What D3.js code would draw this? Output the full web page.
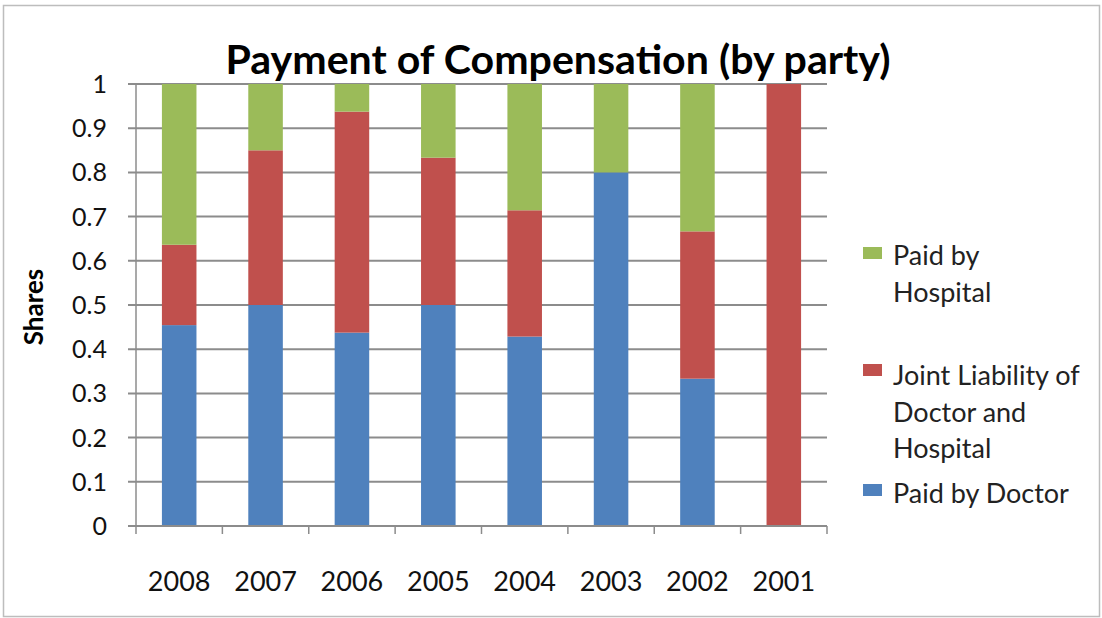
<!DOCTYPE html>
<html><head><meta charset="utf-8">
<script src="https://cdn.jsdelivr.net/npm/d3@7"></script>
<style>body{margin:0;background:#fff}</style>
</head><body>
<svg id="c" width="1102" height="618"></svg>
<script>
const years = ["2008","2007","2006","2005","2004","2003","2002","2001"];
const paidByDoctor   = [0.4545, 0.5, 0.4375, 0.5, 0.4286, 0.8, 0.3333, 0];
const jointLiability = [0.1818, 0.35, 0.5, 0.3333, 0.2857, 0, 0.3333, 1];
const paidByHospital = [0.3637, 0.15, 0.0625, 0.1667, 0.2857, 0.2, 0.3334, 0];
const yTicks = [0,0.1,0.2,0.3,0.4,0.5,0.6,0.7,0.8,0.9,1];
const seriesNames = ["Paid by Doctor","Joint Liability of Doctor and Hospital","Paid by Hospital"];
const seriesColors = ["#4F81BD","#C0504D","#9BBB59"];

const font = "Lato, 'Open Sans', sans-serif";
const svg = d3.select("#c");
svg.append("rect").attr("x",3.5).attr("y",5.5).attr("width",1096).attr("height",611)
  .attr("fill","#fff").attr("stroke","#bdbdbd").attr("stroke-width",1.5);

const L=136, R=827, T=84, B=526;
const x = d3.scaleBand().domain(years).range([L,R]).paddingInner(0.6).paddingOuter(0.3);
const xb = d3.scaleBand().domain(years).range([L,R]);
const y = d3.scaleLinear().domain([0,1]).range([B,T]);

// gridlines
svg.append("g").selectAll("line").data(yTicks).join("line")
  .attr("x1",L-8).attr("x2",R).attr("y1",d=>y(d)).attr("y2",d=>y(d))
  .attr("stroke","#8c8c8c").attr("stroke-width",2);
// y axis line
svg.append("line").attr("x1",L).attr("x2",L).attr("y1",T).attr("y2",B)
  .attr("stroke","#8c8c8c").attr("stroke-width",1.5);
// y labels
svg.append("g").selectAll("text").data(yTicks).join("text")
  .attr("x",107).attr("y",d=>y(d)+9).attr("text-anchor","end")
  .attr("font-family",font).attr("font-size",25).attr("fill","#111")
  .text(d=>d3.format("")(d));

// stacked data
const rows = years.map((yr,i)=>({year:yr, d:paidByDoctor[i], j:jointLiability[i], h:paidByHospital[i]}));
const stack = d3.stack().keys(["d","j","h"])(rows);
svg.append("g").selectAll("g").data(stack).join("g")
  .attr("fill",(s,i)=>seriesColors[i])
  .selectAll("rect").data(s=>s).join("rect")
  .attr("x",d=>x(d.data.year)).attr("width",x.bandwidth())
  .attr("y",d=>y(d[1])).attr("height",d=>Math.max(0,y(d[0])-y(d[1])));

// x axis line + ticks
svg.append("line").attr("x1",L).attr("x2",R).attr("y1",B).attr("y2",B)
  .attr("stroke","#8c8c8c").attr("stroke-width",2);
const tickPos = years.map(yr=>xb(yr)).concat([R]);
svg.append("g").selectAll("line").data(tickPos).join("line")
  .attr("x1",d=>d).attr("x2",d=>d).attr("y1",B).attr("y2",B+8)
  .attr("stroke","#8c8c8c").attr("stroke-width",1.5);
svg.append("g").selectAll("text").data(years).join("text")
  .attr("x",d=>xb(d)+xb.bandwidth()/2).attr("y",591).attr("text-anchor","middle")
  .attr("font-family",font).attr("font-size",27).attr("fill","#111").text(d=>d);

// title
svg.append("text").attr("x",558).attr("y",74).attr("text-anchor","middle")
  .attr("font-family",font).attr("font-weight","bold").attr("font-size",41)
  .attr("textLength",665).attr("lengthAdjust","spacingAndGlyphs")
  .text("Payment of Compensation (by party)");
// y title
svg.append("text").attr("transform","translate(43,307) rotate(-90)").attr("text-anchor","middle")
  .attr("font-family",font).attr("font-weight","bold").attr("font-size",26).text("Shares");

// legend
const legend = [
  {c:2, sy:247, lines:["Paid by","Hospital"], by:265},
  {c:1, sy:364, lines:["Joint Liability of","Doctor and","Hospital"], by:385},
  {c:0, sy:484, lines:["Paid by Doctor"], by:503}
];
const lg = svg.append("g");
legend.forEach(l=>{
  lg.append("rect").attr("x",863).attr("y",l.sy).attr("width",19).attr("height",12).attr("fill",seriesColors[l.c]);
  l.lines.forEach((t,k)=>{
    lg.append("text").attr("x",893).attr("y",l.by+k*36.7)
      .attr("font-family",font).attr("font-size",27).attr("fill","#222").text(t);
  });
});
</script>
</body></html>
